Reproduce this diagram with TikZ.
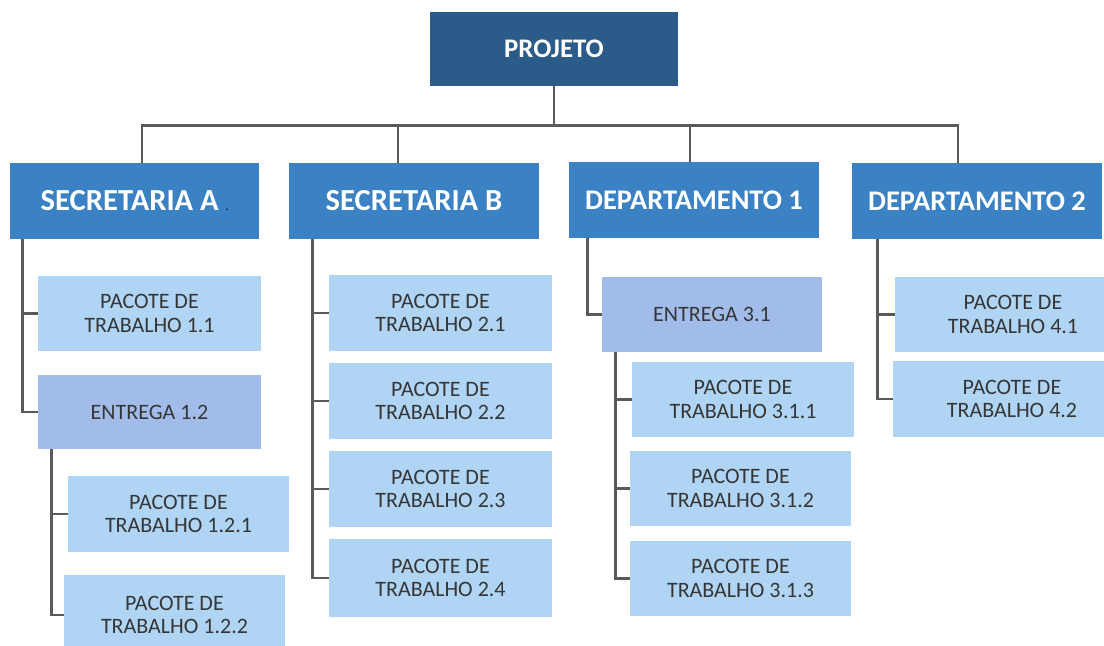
\documentclass[tikz,border=0pt]{standalone}
\usepackage{fontspec}
\setmainfont{Carlito}
\usetikzlibrary{calc}
\definecolor{projc}{HTML}{2B5B89}
\definecolor{levc}{HTML}{3A82C3}
\definecolor{pacc}{HTML}{AFD4F4}
\definecolor{entc}{HTML}{A2BCEA}
\definecolor{linec}{HTML}{5A5A5A}
\definecolor{txtc}{HTML}{363636}
\tikzset{
  box/.style={inner sep=0pt, align=center},
  projbox/.style={box, fill=projc, text=white, font=\fontsize{13.4}{15}\selectfont\bfseries},
  levbox/.style={box, fill=levc, text=white, font=\fontsize{15.3}{17}\selectfont\bfseries},
  depbox/.style={box, fill=levc, text=white, font=\fontsize{14.2}{16}\selectfont\bfseries},
  pacbox/.style={box, fill=pacc, text=txtc, font=\fontsize{11}{11.8}\selectfont},
  entbox/.style={box, fill=entc, text=txtc, font=\fontsize{11}{11.8}\selectfont},
  conn/.style={draw=linec, line width=1.4pt}
}
\newcommand\wbsbox[7]{\node[#1, minimum width={(#5-#3)*0.5pt}, minimum height={(#6-#4)*0.5pt}] (#2) at ({(#3+#5)/2},{(#4+#6)/2}) {#7};}
\begin{document}
\begin{tikzpicture}[x=0.5pt,y=-0.5pt]
\useasboundingbox (0,0) rectangle (1104,646);
\clip (0,0) rectangle (1104,646);
% top
\wbsbox{projbox}{proj}{430}{12}{678}{86}{PROJETO}
% level 1
\wbsbox{levbox}{sa}{10}{163}{259}{239}{SECRETARIA A {\tiny\textcolor{black}{.}}}
\wbsbox{levbox}{sb}{289}{163}{539}{239}{SECRETARIA B}
\wbsbox{depbox}{d1}{569}{162}{819}{238}{DEPARTAMENTO 1}
\wbsbox{depbox}{d2}{852}{163}{1102}{239}{DEPARTAMENTO 2}
% secretaria A
\wbsbox{pacbox}{p11}{38}{276}{261}{351}{PACOTE DE\\TRABALHO 1.1}
\wbsbox{entbox}{e12}{38}{375}{261}{449}{ENTREGA 1.2}
\wbsbox{pacbox}{p121}{68}{476}{289}{552}{PACOTE DE\\TRABALHO 1.2.1}
\wbsbox{pacbox}{p122}{64}{575}{285}{655}{PACOTE DE\\TRABALHO 1.2.2}
% secretaria B
\wbsbox{pacbox}{p21}{329}{275}{552}{351}{PACOTE DE\\TRABALHO 2.1}
\wbsbox{pacbox}{p22}{329}{363}{552}{439}{PACOTE DE\\TRABALHO 2.2}
\wbsbox{pacbox}{p23}{329}{451}{552}{527}{PACOTE DE\\TRABALHO 2.3}
\wbsbox{pacbox}{p24}{329}{539}{552}{617}{PACOTE DE\\TRABALHO 2.4}
% departamento 1
\wbsbox{entbox}{e31}{602}{277}{822}{352}{ENTREGA 3.1}
\wbsbox{pacbox}{p311}{632}{362}{854}{437}{PACOTE DE\\TRABALHO 3.1.1}
\wbsbox{pacbox}{p312}{630}{451}{851}{526}{PACOTE DE\\TRABALHO 3.1.2}
\wbsbox{pacbox}{p313}{630}{541}{851}{616}{PACOTE DE\\TRABALHO 3.1.3}
% departamento 2
\wbsbox{pacbox}{p41}{895}{277}{1131}{352}{PACOTE DE\\TRABALHO 4.1}
\wbsbox{pacbox}{p42}{893}{361}{1131}{437}{PACOTE DE\\TRABALHO 4.2}
% top connectors
\path (proj.south) ++(0,39) coordinate (bus);
\coordinate (ta) at ([xshift=3.75pt]sa.north);
\coordinate (tb) at ([xshift=-8pt]sb.north);
\coordinate (tc) at ([xshift=-2pt]d1.north);
\coordinate (td) at ([xshift=-9.5pt]d2.north);
\draw[conn] (proj.south) -- (bus);
\draw[conn] (ta) -- (ta |- bus) -- (td |- bus) -- (td);
\draw[conn] (tb) -- (tb |- bus);
\draw[conn] (tc) -- (tc |- bus);
% spines
\coordinate (sA) at ([xshift=6.5pt]sa.south west);
\draw[conn] (sA) |- (e12.west);
\draw[conn] (sA |- p11.west) -- (p11.west);
\coordinate (sE) at ([xshift=7pt]e12.south west);
\draw[conn] (sE) |- (p122.west);
\draw[conn] (sE |- p121.west) -- (p121.west);
\coordinate (sB) at ([xshift=12pt]sb.south west);
\draw[conn] (sB) |- (p24.west);
\draw[conn] (sB |- p21.west) -- (p21.west);
\draw[conn] (sB |- p22.west) -- (p22.west);
\draw[conn] (sB |- p23.west) -- (p23.west);
\coordinate (sC) at ([xshift=9.5pt]d1.south west);
\draw[conn] (sC) |- (e31.west);
\coordinate (sF) at ([xshift=7pt]e31.south west);
\draw[conn] (sF) |- (p313.west);
\draw[conn] (sF |- p311.west) -- (p311.west);
\draw[conn] (sF |- p312.west) -- (p312.west);
\coordinate (sD) at ([xshift=13pt]d2.south west);
\draw[conn] (sD) |- (p42.west);
\draw[conn] (sD |- p41.west) -- (p41.west);
\end{tikzpicture}
\end{document}
